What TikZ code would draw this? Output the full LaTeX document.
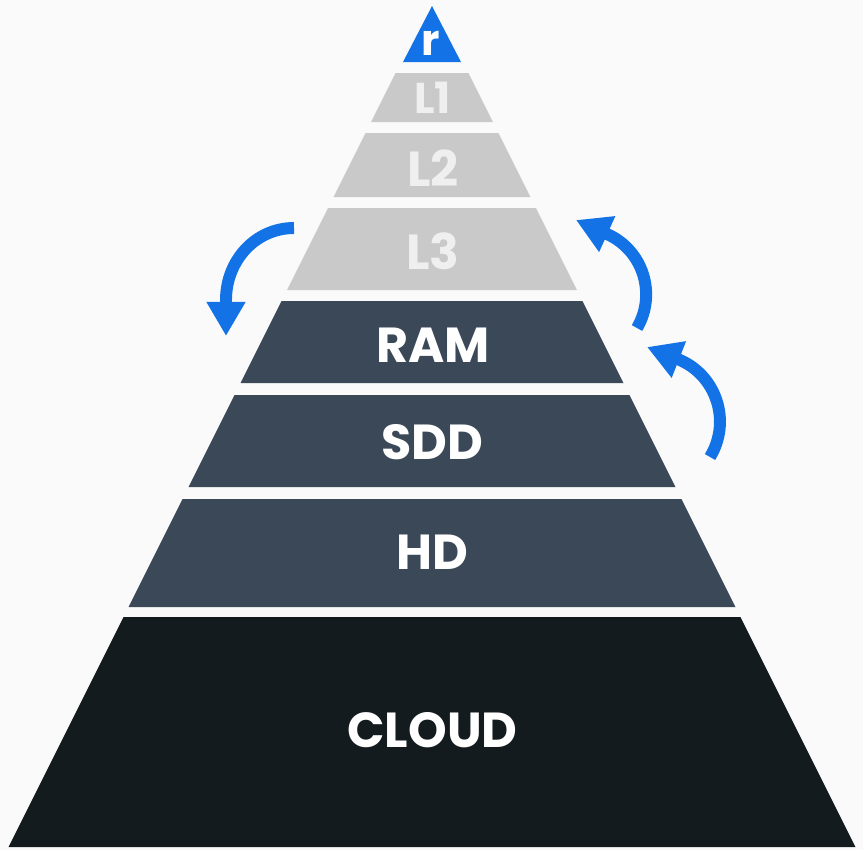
\documentclass[tikz,border=0pt]{standalone}
\usepackage{fontspec}
\setmainfont{Poppins}
\usetikzlibrary{calc}
\usetikzlibrary{math}
\usetikzlibrary{arrows.meta}

\begin{document}
\begin{tikzpicture}[x=0.02cm, y=-0.02cm]
    \definecolor{bg}{HTML}{FAFAFA}
    \definecolor{blue}{HTML}{1373E6}
    \definecolor{grey}{HTML}{C9C9C9}
    \definecolor{greytext}{HTML}{EFEFEF}
    \definecolor{slate}{HTML}{3A4858}
    \definecolor{night}{HTML}{141B1F}
    
    \tikzmath {
        \cx = 432;
        \slope = 0.5;
    }
    
    \tikzstyle{cache}=[fill=grey]
    \tikzstyle{store}=[fill=slate]
    \tikzstyle{lbl}=[inner sep=0pt, text=white, font=\bfseries\fontsize{28}{32}\selectfont]
    \tikzstyle{lbltop}=[inner sep=0pt, text=white, font=\bfseries\fontsize{24.5}{28}\selectfont]
    \tikzstyle{swap}=[line width=6.8pt, draw=blue, -{Triangle[width=21pt, length=19.5pt]}]
    
    \fill[bg] (0,0) rectangle (863,850);
    \useasboundingbox (0,0) rectangle (863,850);
    
    % register
    \coordinate (r_apex) at (\cx, 6);
    \coordinate (r_bl) at (\cx - 29, 62);
    \coordinate (r_br) at (\cx + 29, 62);
    \fill[blue] (r_apex) -- (r_br) -- (r_bl) -- cycle;
    \node[lbltop] (r_label) at (431, 43.5) {r};
    
    % caches
    \coordinate (l1_tl) at (\cx - \slope*73, 73);
    \coordinate (l1_tr) at (\cx + \slope*73, 73);
    \coordinate (l1_br) at (\cx + \slope*122, 122);
    \coordinate (l1_bl) at (\cx - \slope*122, 122);
    \fill[cache] (l1_tl) -- (l1_tr) -- (l1_br) -- (l1_bl) -- cycle;
    \node[lbltop, text=greytext] (l1_label) at (432.5, 97.5) {L1};
    
    \coordinate (l2_tl) at (\cx - \slope*133, 133);
    \coordinate (l2_tr) at (\cx + \slope*133, 133);
    \coordinate (l2_br) at (\cx + \slope*197, 197);
    \coordinate (l2_bl) at (\cx - \slope*197, 197);
    \fill[cache] (l2_tl) -- (l2_tr) -- (l2_br) -- (l2_bl) -- cycle;
    \node[lbl, text=greytext] (l2_label) at (433, 168) {L2};
    
    \coordinate (l3_tl) at (\cx - \slope*208, 208);
    \coordinate (l3_tr) at (\cx + \slope*208, 208);
    \coordinate (l3_br) at (\cx + \slope*290, 290);
    \coordinate (l3_bl) at (\cx - \slope*290, 290);
    \fill[cache] (l3_tl) -- (l3_tr) -- (l3_br) -- (l3_bl) -- cycle;
    \node[lbl, text=greytext] (l3_label) at (433, 251.5) {L3};
    
    % storage
    \coordinate (ram_tl) at (\cx - \slope*301, 301);
    \coordinate (ram_tr) at (\cx + \slope*301, 301);
    \coordinate (ram_br) at (\cx + \slope*383, 383);
    \coordinate (ram_bl) at (\cx - \slope*383, 383);
    \fill[store] (ram_tl) -- (ram_tr) -- (ram_br) -- (ram_bl) -- cycle;
    \node[lbl] (ram_label) at (433, 345) {RAM};
    
    \coordinate (sdd_tl) at (\cx - \slope*395, 395);
    \coordinate (sdd_tr) at (\cx + \slope*395, 395);
    \coordinate (sdd_br) at (\cx + \slope*487, 487);
    \coordinate (sdd_bl) at (\cx - \slope*487, 487);
    \fill[store] (sdd_tl) -- (sdd_tr) -- (sdd_br) -- (sdd_bl) -- cycle;
    \node[lbl] (sdd_label) at (432, 442) {SDD};
    
    \coordinate (hd_tl) at (\cx - \slope*499, 499);
    \coordinate (hd_tr) at (\cx + \slope*499, 499);
    \coordinate (hd_br) at (\cx + \slope*607, 607);
    \coordinate (hd_bl) at (\cx - \slope*607, 607);
    \fill[store] (hd_tl) -- (hd_tr) -- (hd_br) -- (hd_bl) -- cycle;
    \node[lbl] (hd_label) at (432, 552) {HD};
    
    \coordinate (cloud_tl) at (\cx - \slope*617, 617);
    \coordinate (cloud_tr) at (\cx + \slope*617, 617);
    \coordinate (cloud_br) at (\cx + \slope*847, 847);
    \coordinate (cloud_bl) at (\cx - \slope*847, 847);
    \fill[night] (cloud_tl) -- (cloud_tr) -- (cloud_br) -- (cloud_bl) -- cycle;
    \node[lbl] (cloud_label) at (432.5, 730) {CLOUD};
    
    % arrows
    \coordinate (down_tail) at (294, 228);
    \coordinate (down_bend) at (226, 300);
    \coordinate (down_tip) at (226, 336);
    \draw[swap] (down_tail) .. controls (256, 228) and (226, 260) .. (down_bend) -- (down_tip);
    
    \coordinate (up1_tail) at (637, 328);
    \coordinate (up1_bend) at (607, 234);
    \coordinate (up1_tip) at (576, 220);
    \draw[swap] (up1_tail) .. controls (657, 294) and (643, 250) .. (up1_bend) -- (up1_tip);
    
    \coordinate (up2_tail) at (710, 457);
    \coordinate (up2_bend) at (677.5, 359);
    \coordinate (up2_tip) at (647, 347);
    \draw[swap] (up2_tail) .. controls (732, 421) and (716, 374) .. (up2_bend) -- (up2_tip);
\end{tikzpicture}
\end{document}
